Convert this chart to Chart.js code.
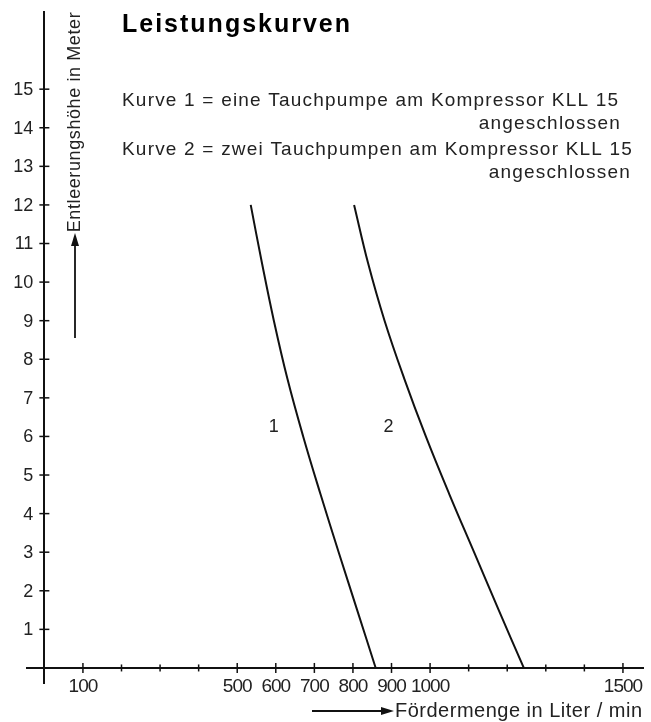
<!DOCTYPE html>
<html>
<head>
<meta charset="utf-8">
<script src="https://cdn.jsdelivr.net/npm/chart.js@4.4.1/dist/chart.umd.min.js"></script>
<style>
    html, body { margin: 0; padding: 0; background: #fff; }
    #box { width: 651px; height: 722px; }
</style>
</head>
<body>
<div id="box"><canvas id="grafico-leistung"></canvas></div>
<script>
const hoehe = [12, 10.5, 9, 7.5, 6, 4.5, 3, 1.5, 0];

// KURVE 1 - eine Tauchpumpe (Fördermenge in l/min)
const kurve1Menge = [535, 564, 595, 630, 671, 716, 763, 811, 859];

// KURVE 2 - zwei Tauchpumpen
const kurve2Menge = [803, 839, 882, 933, 989, 1050, 1114, 1178, 1243];

const kurvenNamen = ['1', '2'];

// ACHSEN
const xStriche = [100, 200, 300, 400, 500, 600, 700, 800, 900, 1000, 1100, 1200, 1300, 1400, 1500];
const xBeschriftung = [100, 500, 600, 700, 800, 900, 1000, 1500];
const yStriche = [1, 2, 3, 4, 5, 6, 7, 8, 9, 10, 11, 12, 13, 14, 15];

const titel = 'Leistungskurven';
const legende = [
    ['Kurve 1 = eine Tauchpumpe am Kompressor KLL 15', 'angeschlossen'],
    ['Kurve 2 = zwei Tauchpumpen am Kompressor KLL 15', 'angeschlossen']
];
const yTitel = 'Entleerungshöhe in Meter';
const xTitel = 'Fördermenge in Liter / min';

const SCHRIFT = '"Liberation Sans", Arial, sans-serif';

function punkte(menge) {
    return menge.map((m, i) => ({ x: m, y: hoehe[i] }));
}

function pfeil(ctx, x1, y1, x2, y2) {
    const ang = Math.atan2(y2 - y1, x2 - x1);
    const len = 13, half = 4;
    ctx.beginPath();
    ctx.moveTo(x1, y1);
    ctx.lineTo(x2 - Math.cos(ang) * len, y2 - Math.sin(ang) * len);
    ctx.stroke();
    ctx.beginPath();
    ctx.moveTo(x2, y2);
    ctx.lineTo(x2 - Math.cos(ang) * len - Math.sin(ang) * half, y2 - Math.sin(ang) * len + Math.cos(ang) * half);
    ctx.lineTo(x2 - Math.cos(ang) * len + Math.sin(ang) * half, y2 - Math.sin(ang) * len - Math.cos(ang) * half);
    ctx.closePath();
    ctx.fill();
}

// STRICHE, ZAHLEN, TITEL UND TEXTE
const beschriftung = {
    id: 'beschriftung',
    afterDraw(chart) {
        const ctx = chart.ctx;
        const sx = chart.scales.x, sy = chart.scales.y;
        const x0 = sx.getPixelForValue(0), y0 = sy.getPixelForValue(0);
        ctx.save();
        ctx.strokeStyle = '#111';
        ctx.fillStyle = '#222';
        ctx.lineWidth = 1.5;

        // x-Striche und Zahlen
        ctx.font = '19px ' + SCHRIFT;
        ctx.letterSpacing = '-1px';
        ctx.textAlign = 'center';
        ctx.textBaseline = 'middle';
        xStriche.forEach(v => {
            const px = sx.getPixelForValue(v);
            const h = xBeschriftung.includes(v) ? 5 : 3.5;
            ctx.beginPath();
            ctx.moveTo(px, y0 - h);
            ctx.lineTo(px, y0 + h);
            ctx.stroke();
            if (xBeschriftung.includes(v)) ctx.fillText(String(v), px, y0 + 19);
        });

        // y-Striche und Zahlen
        ctx.font = '18px ' + SCHRIFT;
        ctx.letterSpacing = '0px';
        ctx.textAlign = 'right';
        yStriche.forEach(v => {
            const py = sy.getPixelForValue(v);
            ctx.beginPath();
            ctx.moveTo(x0 - 5, py);
            ctx.lineTo(x0 + 5, py);
            ctx.stroke();
            ctx.fillText(String(v), x0 - 11, py + 1);
        });

        // Kurvennummern
        ctx.textAlign = 'center';
        ctx.fillText(kurvenNamen[0], sx.getPixelForValue(595), sy.getPixelForValue(6.25));
        ctx.fillText(kurvenNamen[1], sx.getPixelForValue(892), sy.getPixelForValue(6.25));

        // Titel
        ctx.fillStyle = '#000';
        ctx.textAlign = 'left';
        ctx.textBaseline = 'alphabetic';
        ctx.font = 'bold 25px ' + SCHRIFT;
        ctx.letterSpacing = '2px';
        ctx.fillText(titel, 122, 32);

        // Legende
        ctx.fillStyle = '#222';
        ctx.font = '19px ' + SCHRIFT;
        ctx.letterSpacing = '1.2px';
        ctx.textBaseline = 'middle';
        let yy = 101;
        legende.forEach((zeilen, i) => {
            const rechts = i === 0 ? 621 : 631;
            ctx.textAlign = 'left';
            ctx.fillText(zeilen[0], 122, yy);
            ctx.textAlign = 'right';
            ctx.fillText(zeilen[1], rechts, yy + 23);
            yy += 49;
        });

        // y-Achsentitel mit Pfeil
        ctx.font = '18px ' + SCHRIFT;
        ctx.letterSpacing = '0.6px';
        ctx.save();
        ctx.translate(75, 122);
        ctx.rotate(-Math.PI / 2);
        ctx.textAlign = 'center';
        ctx.fillText(yTitel, 0, 0);
        ctx.restore();
        ctx.lineWidth = 1.8;
        ctx.fillStyle = '#111';
        pfeil(ctx, 75, 338, 75, 233);

        // x-Achsentitel mit Pfeil
        ctx.fillStyle = '#222';
        ctx.font = '20px ' + SCHRIFT;
        ctx.letterSpacing = '0.5px';
        ctx.textAlign = 'left';
        ctx.fillText(xTitel, 395, 711);
        ctx.fillStyle = '#111';
        pfeil(ctx, 312, 711, 394, 711);
        ctx.restore();
    }
};

function gerarGraficoLeistung() {
    const canvas = document.getElementById('grafico-leistung');
    const ctx = canvas.getContext('2d');

    const data = {
        datasets: [
            {
                label: 'Kurve 1',
                data: punkte(kurve1Menge),
                showLine: true,
                borderColor: '#111',
                borderWidth: 2,
                pointRadius: 0,
                tension: 0.4
            },
            {
                label: 'Kurve 2',
                data: punkte(kurve2Menge),
                showLine: true,
                borderColor: '#111',
                borderWidth: 2,
                pointRadius: 0,
                tension: 0.4
            }
        ]
    };

    const options = {
        responsive: true,
        maintainAspectRatio: false,
        animation: false,
        layout: { padding: { left: 27, right: 8, top: 12, bottom: 39 } },
        plugins: {
            legend: { display: false },
            tooltip: { enabled: false }
        },
        scales: {
            x: {
                type: 'linear',
                min: -45,
                max: 1552,
                position: { y: 0 },
                grid: { display: false, drawTicks: false },
                border: { display: true, color: '#111', width: 2 },
                ticks: { display: false, stepSize: 100 }
            },
            y: {
                type: 'linear',
                min: -0.39,
                max: 17,
                position: { x: 0 },
                grid: { display: false, drawTicks: false },
                border: { display: true, color: '#111', width: 2 },
                ticks: { display: false, stepSize: 1 }
            }
        }
    };

    new Chart(ctx, {
        type: 'scatter',
        data: data,
        options: options,
        plugins: [beschriftung]
    });
}

gerarGraficoLeistung();
</script>
</body>
</html>
